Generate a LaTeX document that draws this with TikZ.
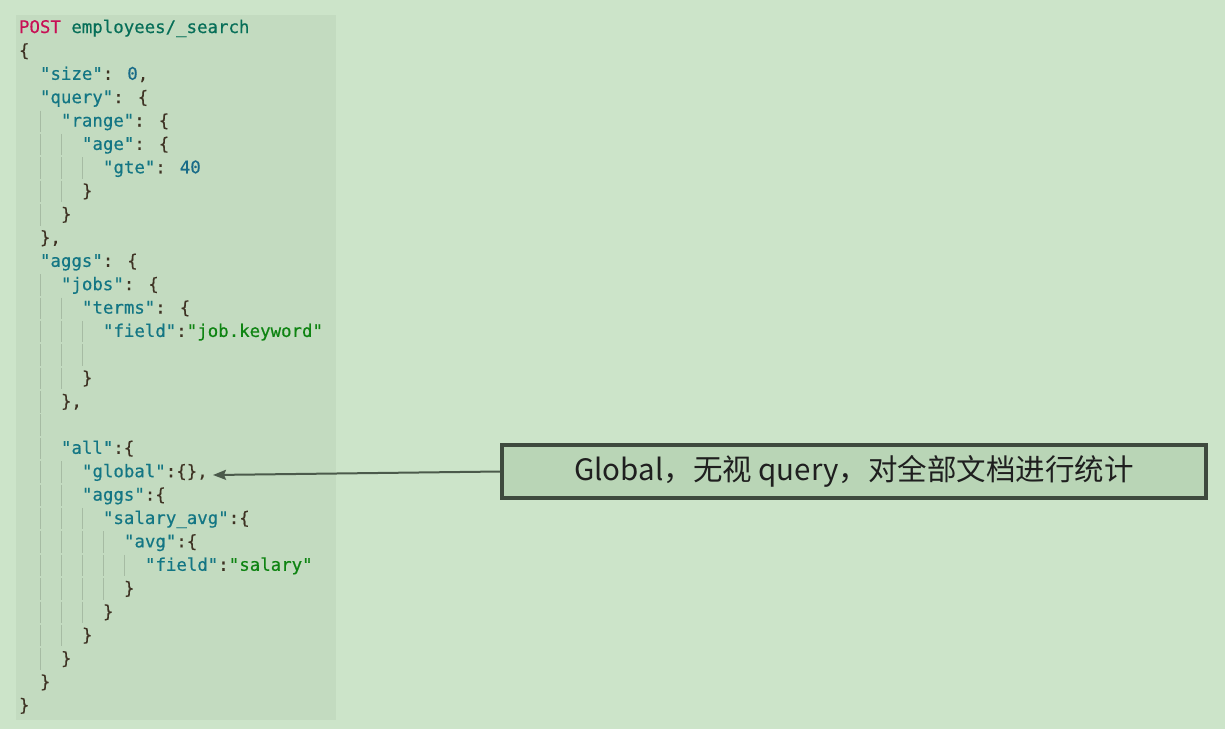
\documentclass[tikz,border=0pt]{standalone}
\usepackage{fontspec}
\newfontfamily\codefont[FakeBold=0.5]{DejaVu Sans Mono}
\newfontfamily\cjk{Noto Sans CJK SC}
\usetikzlibrary{arrows.meta}
\definecolor{bgc}{HTML}{CCE4C9}
\definecolor{panelc}{HTML}{C3DBC0}
\definecolor{boxfill}{HTML}{B9D5B6}
\definecolor{boxdraw}{HTML}{3E4A3E}
\definecolor{arrowc}{HTML}{4B5A4B}
\definecolor{guidec}{HTML}{A6BBA3}
\definecolor{postc}{HTML}{C80F55}
\definecolor{pathc}{HTML}{066E58}
\definecolor{keyc}{HTML}{137684}
\definecolor{numc}{HTML}{186B88}
\definecolor{strc}{HTML}{0E8412}
\definecolor{puncc}{HTML}{3E3223}
\newcommand\jkey[1]{\textcolor{keyc}{"#1"}}
\newcommand\jstr[1]{\textcolor{strc}{"#1"}}
\newcommand\jnum[1]{\textcolor{numc}{#1}}
\newcommand\codeline[3]{\node[codetext] (l#1) at ({19+#2*10.5},{33+(#1-1)*23.38}) {#3};}
\begin{document}
\begin{tikzpicture}[x=1pt,y=-1pt,
  codetext/.style={anchor=base west,inner sep=0pt,outer sep=0pt,text=puncc,
    font=\codefont\fontsize{17.4}{20}\selectfont},
  guide/.style={draw=guidec,line width=1pt},
  notebox/.style={draw=boxdraw,fill=boxfill,line width=4pt,minimum width=704pt,
    minimum height=53pt,inner sep=0pt,text=black!88,
    font=\cjk\fontsize{29.5}{34}\selectfont},
  conn/.style={draw=arrowc,line width=2pt,-{Stealth[length=13pt,width=10pt,inset=2pt]}}]
\useasboundingbox (0,0) rectangle (1225,729);
\fill[bgc] (0,0) rectangle (1225,729);
\fill[panelc] (16,15) rectangle (336,720);
% indent guides
\foreach \i/\g in {5/1,6/2,7/3,8/2,9/1,12/1,13/2,14/3,15/3,16/2,17/1,18/1,19/1,20/2,21/2,22/3,23/4,24/5,25/4,26/3,27/2,28/1}{
  \foreach \k in {1,...,\g}{
    \draw[guide] ({40.5+(\k-1)*21},{33+(\i-1)*23.38-16}) -- ({40.5+(\k-1)*21},{33+(\i-1)*23.38+5.5});
  }
}
% code
\codeline{1}{0}{\textcolor{postc}{POST} \textcolor{pathc}{employees/\_search}}
\codeline{2}{0}{\{}
\codeline{3}{2}{\jkey{size}: \jnum{0},}
\codeline{4}{2}{\jkey{query}: \{}
\codeline{5}{4}{\jkey{range}: \{}
\codeline{6}{6}{\jkey{age}: \{}
\codeline{7}{8}{\jkey{gte}: \jnum{40}}
\codeline{8}{6}{\}}
\codeline{9}{4}{\}}
\codeline{10}{2}{\},}
\codeline{11}{2}{\jkey{aggs}: \{}
\codeline{12}{4}{\jkey{jobs}: \{}
\codeline{13}{6}{\jkey{terms}: \{}
\codeline{14}{8}{\jkey{field}:\jstr{job.keyword}}
\codeline{16}{6}{\}}
\codeline{17}{4}{\},}
\codeline{19}{4}{\jkey{all}:\{}
\codeline{20}{6}{\jkey{global}:\{\},}
\codeline{21}{6}{\jkey{aggs}:\{}
\codeline{22}{8}{\jkey{salary\_avg}:\{}
\codeline{23}{10}{\jkey{avg}:\{}
\codeline{24}{12}{\jkey{field}:\jstr{salary}}
\codeline{25}{10}{\}}
\codeline{26}{8}{\}}
\codeline{27}{6}{\}}
\codeline{28}{4}{\}}
\codeline{29}{2}{\}}
\codeline{30}{0}{\}}
% note box and arrow
\node[notebox] (gbox) at (854,471.5) {Global，无视 query，对全部文档进行统计};
\coordinate (gtip) at (213,475);
\draw[conn] (gbox.west) -- (gtip);
\end{tikzpicture}
\end{document}
